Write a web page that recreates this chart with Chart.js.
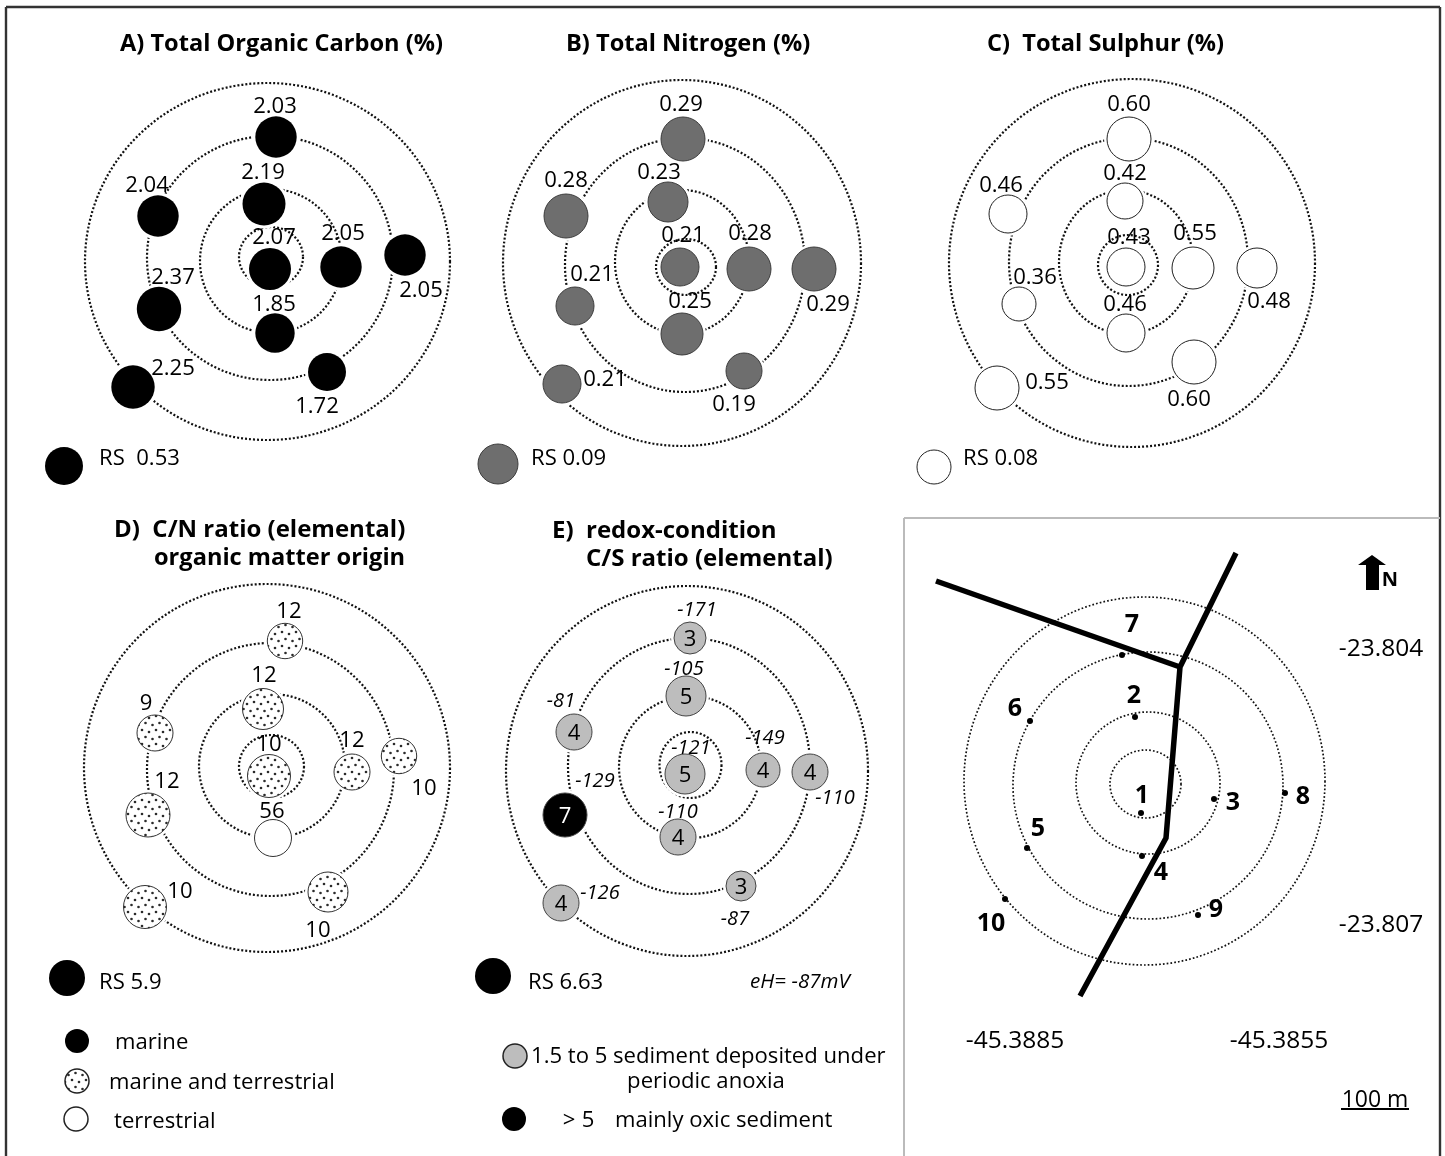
<!DOCTYPE html>
<html>
<head>
<meta charset="utf-8">
<title>Sediment rings</title>
<script src="https://cdn.jsdelivr.net/npm/chart.js@4"></script>
<style>
html, body { margin: 0; padding: 0; background: #fff; }
canvas { display: block; }
</style>
</head>
<body>
<canvas id="fig" width="1445" height="1156"></canvas>
<script>
// --- Panel A: total organic carbon ---
const tocValues = [2.03, 2.19, 2.04, 2.07, 2.05, 2.05, 2.37, 1.85, 1.72, 2.25];
const tocX = [276, 264, 158, 270, 341, 405, 159, 275, 327, 133];
const tocY = [137, 204, 216, 269, 267, 255, 309, 333, 372, 387];
const tocR = [20.7, 21.5, 20.7, 21, 20.7, 20.7, 22.2, 19.7, 19, 21.7];
const tocLabelX = [275, 263, 147, 274, 343, 421, 173, 274, 317, 173];
const tocLabelY = [105, 171, 184, 236, 232, 289, 276, 303, 405, 367];

// --- Panel B: total nitrogen ---
const tnValues = [0.29, 0.23, 0.28, 0.21, 0.28, 0.29, 0.21, 0.25, 0.19, 0.21];
const tnX = [683, 668, 566, 680, 749, 814, 575, 682, 744, 562];
const tnY = [139, 202, 216, 267, 269, 269, 306, 334, 371, 384];
const tnR = [22, 20, 22, 19, 22, 22, 19, 21, 18, 19];
const tnLabelX = [681, 659, 566, 683, 750, 828, 592, 690, 734, 605];
const tnLabelY = [103, 171, 179, 234, 232, 303, 273, 300, 403, 378];

// --- Panel C: total sulphur ---
const tsValues = [0.60, 0.42, 0.46, 0.43, 0.55, 0.48, 0.36, 0.46, 0.60, 0.55];
const tsX = [1129, 1125, 1008, 1126, 1193, 1257, 1019, 1126, 1194, 997];
const tsY = [139, 201, 214, 267, 268, 268, 304, 333, 362, 388];
const tsR = [22, 18, 19, 19, 21, 20, 17, 19, 22, 22];
const tsLabelX = [1129, 1125, 1001, 1129, 1195, 1269, 1035, 1125, 1189, 1047];
const tsLabelY = [103, 172, 184, 236, 232, 300, 276, 303, 398, 381];

// --- Panel D: C/N ratio ---
const cnValues = [12, 12, 9, 10, 12, 10, 12, 56, 10, 10];
const cnX = [285, 263, 155, 269, 352, 399, 148, 273, 328, 145];
const cnY = [641, 709, 733, 776, 772, 756, 815, 838, 892, 907];
const cnR = [17.7, 20.5, 18, 21.5, 18, 17.7, 22, 18.5, 20, 21.5];
const cnLabelX = [289, 264, 146, 269, 352, 424, 167, 272, 318, 180];
const cnLabelY = [610, 674, 702, 743, 739, 787, 780, 810, 929, 890];

// --- Panel E: C/S ratio and redox ---
const csValues = [3, 5, 4, 5, 4, 4, 7, 4, 3, 4];
const csX = [690, 686, 574, 685, 763, 810, 565, 678, 741, 561];
const csY = [638, 696, 732, 774, 770, 772, 815, 837, 886, 903];
const csR = [16, 20, 18, 20, 17, 18, 22, 18, 15, 18];
const ehValues = [-171, -105, -81, -121, -149, -110, -129, -110, -87, -126];
const ehLabelX = [697, 684, 561, 691, 765, 835, 595, 678, 735, 600];
const ehLabelY = [608, 667, 699, 746, 736, 796, 779, 810, 917, 891];

// --- Panel F: station map ---
const stationNames = ["1", "2", "3", "4", "5", "6", "7", "8", "9", "10"];
const stationX = [1141, 1135, 1214, 1142, 1027, 1030, 1122, 1285, 1198, 1005];
const stationY = [813, 717, 799, 856, 848, 721, 655, 793, 915, 899];
const stationLabelX = [1142, 1134, 1233, 1161, 1038, 1015, 1132, 1303, 1216, 991];
const stationLabelY = [794, 694, 801, 871, 827, 707, 623, 795, 908, 922];
const roadWestX = [936, 1180];
const roadWestY = [581, 667];
const roadMainX = [1236, 1180, 1166, 1080];
const roadMainY = [553, 667, 838, 996];

// rings per panel: centre x, centre y, x radius, y radius, inner to outer
const ringsA = [[271, 257, 32, 30], [271, 261, 71, 72], [270, 258, 123, 122], [267.5, 261.5, 182.5, 178.5]];
const ringsB = [[686, 267, 30, 28], [682, 262, 67, 72], [685, 265, 120, 127], [682, 263, 179, 183]];
const ringsC = [[1128, 265, 30, 30], [1126, 262, 67, 72], [1128.5, 262, 119.5, 124], [1132, 263, 183, 184]];
const ringsD = [[271.5, 766.5, 32.5, 31.5], [272, 766, 73, 72], [270.5, 769.5, 123.5, 126.5], [267, 768, 183, 184]];
const ringsE = [[690.5, 765, 31, 33], [690, 767, 71, 71], [689, 766, 121, 128], [687, 771, 181, 185]];
const ringsF = [[1145.5, 784, 35.5, 34], [1148, 783, 72, 71], [1148, 785.5, 135, 133.5], [1144.5, 781, 180.5, 184]];

const BLACK = "#000000";
const GREY_DARK = "#6e6e6e";
const GREY_LIGHT = "#bdbdbd";
const FONT = "'Open Sans'";

function stipple() {
    const c = document.createElement("canvas");
    c.width = 14;
    c.height = 14;
    const g = c.getContext("2d");
    g.fillStyle = "#ffffff";
    g.fillRect(0, 0, 14, 14);
    g.fillStyle = "#2a2a2a";
    [[2, 2], [9, 4], [5.5, 9], [12.5, 11]].forEach(([x, y]) => {
        g.beginPath();
        g.arc(x, y, 1.3, 0, Math.PI * 2);
        g.fill();
    });
    return g.createPattern(c, "repeat");
}
const DOTS = stipple();

function bubbles(xs, ys, rs, fill, border, borderWidth, order) {
    return {
        type: "bubble",
        data: xs.map((x, i) => ({ x: x, y: ys[i], r: rs[i] })),
        backgroundColor: fill,
        borderColor: border,
        borderWidth: borderWidth,
        order: order
    };
}

// white gap the rings keep around each circle
function halo(xs, ys, rs) {
    return bubbles(xs, ys, rs.map(r => r + 3), "#ffffff", "#ffffff", 0, 5);
}

function road(xs, ys) {
    return {
        type: "scatter",
        showLine: true,
        data: xs.map((x, i) => ({ x: x, y: ys[i] })),
        borderColor: BLACK,
        borderWidth: 5.5,
        pointRadius: 0,
        borderCapStyle: "butt",
        borderJoinStyle: "miter",
        order: 3
    };
}

const cnFill = cnValues.map(v => v > 50 ? "#ffffff" : DOTS);
const csFill = csValues.map(v => v > 5 ? BLACK : GREY_LIGHT);

const datasets = [
    halo(tocX, tocY, tocR), halo(tnX, tnY, tnR), halo(tsX, tsY, tsR),
    halo(cnX, cnY, cnR), halo(csX, csY, csR),
    bubbles(tocX, tocY, tocR, BLACK, BLACK, 0, 2),
    bubbles([64], [466], [19], BLACK, BLACK, 0, 2),
    bubbles(tnX, tnY, tnR, GREY_DARK, "#3c3c3c", 1, 2),
    bubbles([498], [464], [20], GREY_DARK, "#3c3c3c", 1, 2),
    bubbles(tsX, tsY, tsR, "#ffffff", "#222222", 1, 2),
    bubbles([934], [467], [17], "#ffffff", "#222222", 1, 2),
    bubbles(cnX, cnY, cnR, cnFill, "#333333", 1, 2),
    bubbles([67, 77], [978, 1041], [18, 12], BLACK, BLACK, 0, 2),
    bubbles([77], [1081], [12], DOTS, "#222222", 1.5, 2),
    bubbles([76], [1119], [12], "#ffffff", "#222222", 1.5, 2),
    bubbles(csX, csY, csR, csFill, "#444444", 1, 2),
    bubbles([493, 514], [976, 1119], [18, 12], BLACK, BLACK, 0, 2),
    bubbles([515], [1056], [12], GREY_LIGHT, "#222222", 1.5, 2),
    bubbles(stationX, stationY, stationX.map(() => 3), BLACK, BLACK, 0, 2),
    road(roadWestX, roadWestY),
    road(roadMainX, roadMainY)
];

// free text: string, x, y, align, font
const T = "bold 23.6px " + FONT;
const T2 = "bold 24px " + FONT;
const V = "22.1px " + FONT;
const M = "24.5px " + FONT;
const I = "italic 20px " + FONT;
const S = "bold 25px " + FONT;
const freeText = [
    ["A) Total Organic Carbon (%)", 120, 42, "left", T],
    ["B) Total Nitrogen (%)", 566, 42, "left", T],
    ["C)  Total Sulphur (%)", 987, 42, "left", T],
    ["D)  C/N ratio (elemental)", 114, 528, "left", T2],
    ["organic matter origin", 154, 556, "left", T],
    ["E)  redox-condition", 552, 529, "left", T2],
    ["C/S ratio (elemental)", 586, 557, "left", T2],
    ["RS  0.53", 99, 457, "left", V],
    ["RS 0.09", 531, 457, "left", V],
    ["RS 0.08", 963, 457, "left", V],
    ["RS 5.9", 99, 981, "left", V],
    ["RS 6.63", 528, 981, "left", V],
    ["eH= -87mV", 800, 980, "center", "italic 20.6px " + FONT],
    ["marine", 115, 1041, "left", V],
    ["marine and terrestrial", 109, 1081, "left", V],
    ["terrestrial", 114, 1120, "left", V],
    ["1.5 to 5 sediment deposited under", 531, 1055, "left", V],
    ["periodic anoxia", 706, 1080, "center", V],
    [">", 569, 1119, "center", V],
    ["5", 588, 1119, "center", V],
    ["mainly oxic sediment", 615, 1119, "left", V],
    ["-23.804", 1381, 647, "center", M],
    ["-23.807", 1381, 923, "center", M],
    ["-45.3885", 1015, 1039, "center", M],
    ["-45.3855", 1279, 1039, "center", M],
    ["100 m", 1375, 1098, "center", "23px " + FONT],
    ["N", 1390, 578, "center", "bold 20px " + FONT]
];

const ringPlugin = {
    id: "rings",
    beforeDatasetsDraw(chart) {
        const { ctx, scales: { x, y } } = chart;
        const drawRings = (rings, width, dash) => rings.forEach(([cx, cy, rx, ry]) => {
            ctx.save();
            ctx.strokeStyle = "#111111";
            ctx.lineWidth = width;
            ctx.setLineDash(dash);
            ctx.beginPath();
            ctx.ellipse(x.getPixelForValue(cx), y.getPixelForValue(cy),
                Math.abs(x.getPixelForValue(cx + rx) - x.getPixelForValue(cx)),
                Math.abs(y.getPixelForValue(cy + ry) - y.getPixelForValue(cy)), 0, 0, Math.PI * 2);
            ctx.stroke();
            ctx.restore();
        });
        [ringsA, ringsB, ringsC, ringsD, ringsE].forEach(r => drawRings(r, 2.2, [2, 2]));
        drawRings(ringsF, 1.7, [1.7, 2.1]);

        // frame
        const line = (x0, y0, x1, y1, color, w) => {
            ctx.save();
            ctx.strokeStyle = color;
            ctx.lineWidth = w;
            ctx.beginPath();
            ctx.moveTo(x.getPixelForValue(x0), y.getPixelForValue(y0));
            ctx.lineTo(x.getPixelForValue(x1), y.getPixelForValue(y1));
            ctx.stroke();
            ctx.restore();
        };
        line(6, 7, 1440, 7, "#333333", 2.4);
        line(6, 7, 6, 1156, "#333333", 2.4);
        line(1440, 7, 1440, 1156, "#333333", 2.4);
        line(904, 518, 1440, 518, "#bbbbbb", 2);
        line(904, 518, 904, 1156, "#bbbbbb", 2);
        line(1341, 1109, 1409, 1109, "#000000", 2);
    },
    afterDatasetsDraw(chart) {
        const { ctx, scales: { x, y } } = chart;
        const put = (str, px, py, align, font, color) => {
            ctx.font = font;
            ctx.textAlign = align;
            ctx.textBaseline = "middle";
            ctx.fillStyle = color || "#000000";
            ctx.fillText(str, x.getPixelForValue(px), y.getPixelForValue(py) + 2);
        };
        ctx.save();
        tocValues.forEach((v, i) => put(v.toFixed(2), tocLabelX[i], tocLabelY[i], "center", V));
        tnValues.forEach((v, i) => put(v.toFixed(2), tnLabelX[i], tnLabelY[i], "center", V));
        tsValues.forEach((v, i) => put(v.toFixed(2), tsLabelX[i], tsLabelY[i], "center", V));
        cnValues.forEach((v, i) => put(String(v), cnLabelX[i], cnLabelY[i], "center", V));
        csValues.forEach((v, i) => put(String(v), csX[i], csY[i], "center", V, v > 5 ? "#ffffff" : "#000000"));
        ehValues.forEach((v, i) => put(String(v), ehLabelX[i], ehLabelY[i], "center", I));
        stationNames.forEach((n, i) => put(n, stationLabelX[i], stationLabelY[i], "center", S));
        freeText.forEach(t => put(t[0], t[1], t[2], t[3], t[4]));

        // north arrow
        const ax = x.getPixelForValue(1372);
        ctx.fillStyle = "#000000";
        ctx.beginPath();
        ctx.moveTo(ax, y.getPixelForValue(555));
        ctx.lineTo(ax + 14, y.getPixelForValue(565));
        ctx.lineTo(ax + 7, y.getPixelForValue(565));
        ctx.lineTo(ax + 7, y.getPixelForValue(590));
        ctx.lineTo(ax - 6, y.getPixelForValue(590));
        ctx.lineTo(ax - 6, y.getPixelForValue(565));
        ctx.lineTo(ax - 14, y.getPixelForValue(565));
        ctx.closePath();
        ctx.fill();
        ctx.restore();
    }
};

new Chart(document.getElementById("fig").getContext("2d"), {
    data: { datasets: datasets },
    plugins: [ringPlugin],
    options: {
        responsive: false,
        animation: false,
        events: [],
        layout: { padding: 0, autoPadding: false },
        plugins: { legend: { display: false }, tooltip: { enabled: false } },
        scales: {
            x: { type: "linear", min: 0, max: 1445, display: false },
            y: { type: "linear", min: 0, max: 1156, reverse: true, display: false }
        }
    }
});
</script>
</body>
</html>
